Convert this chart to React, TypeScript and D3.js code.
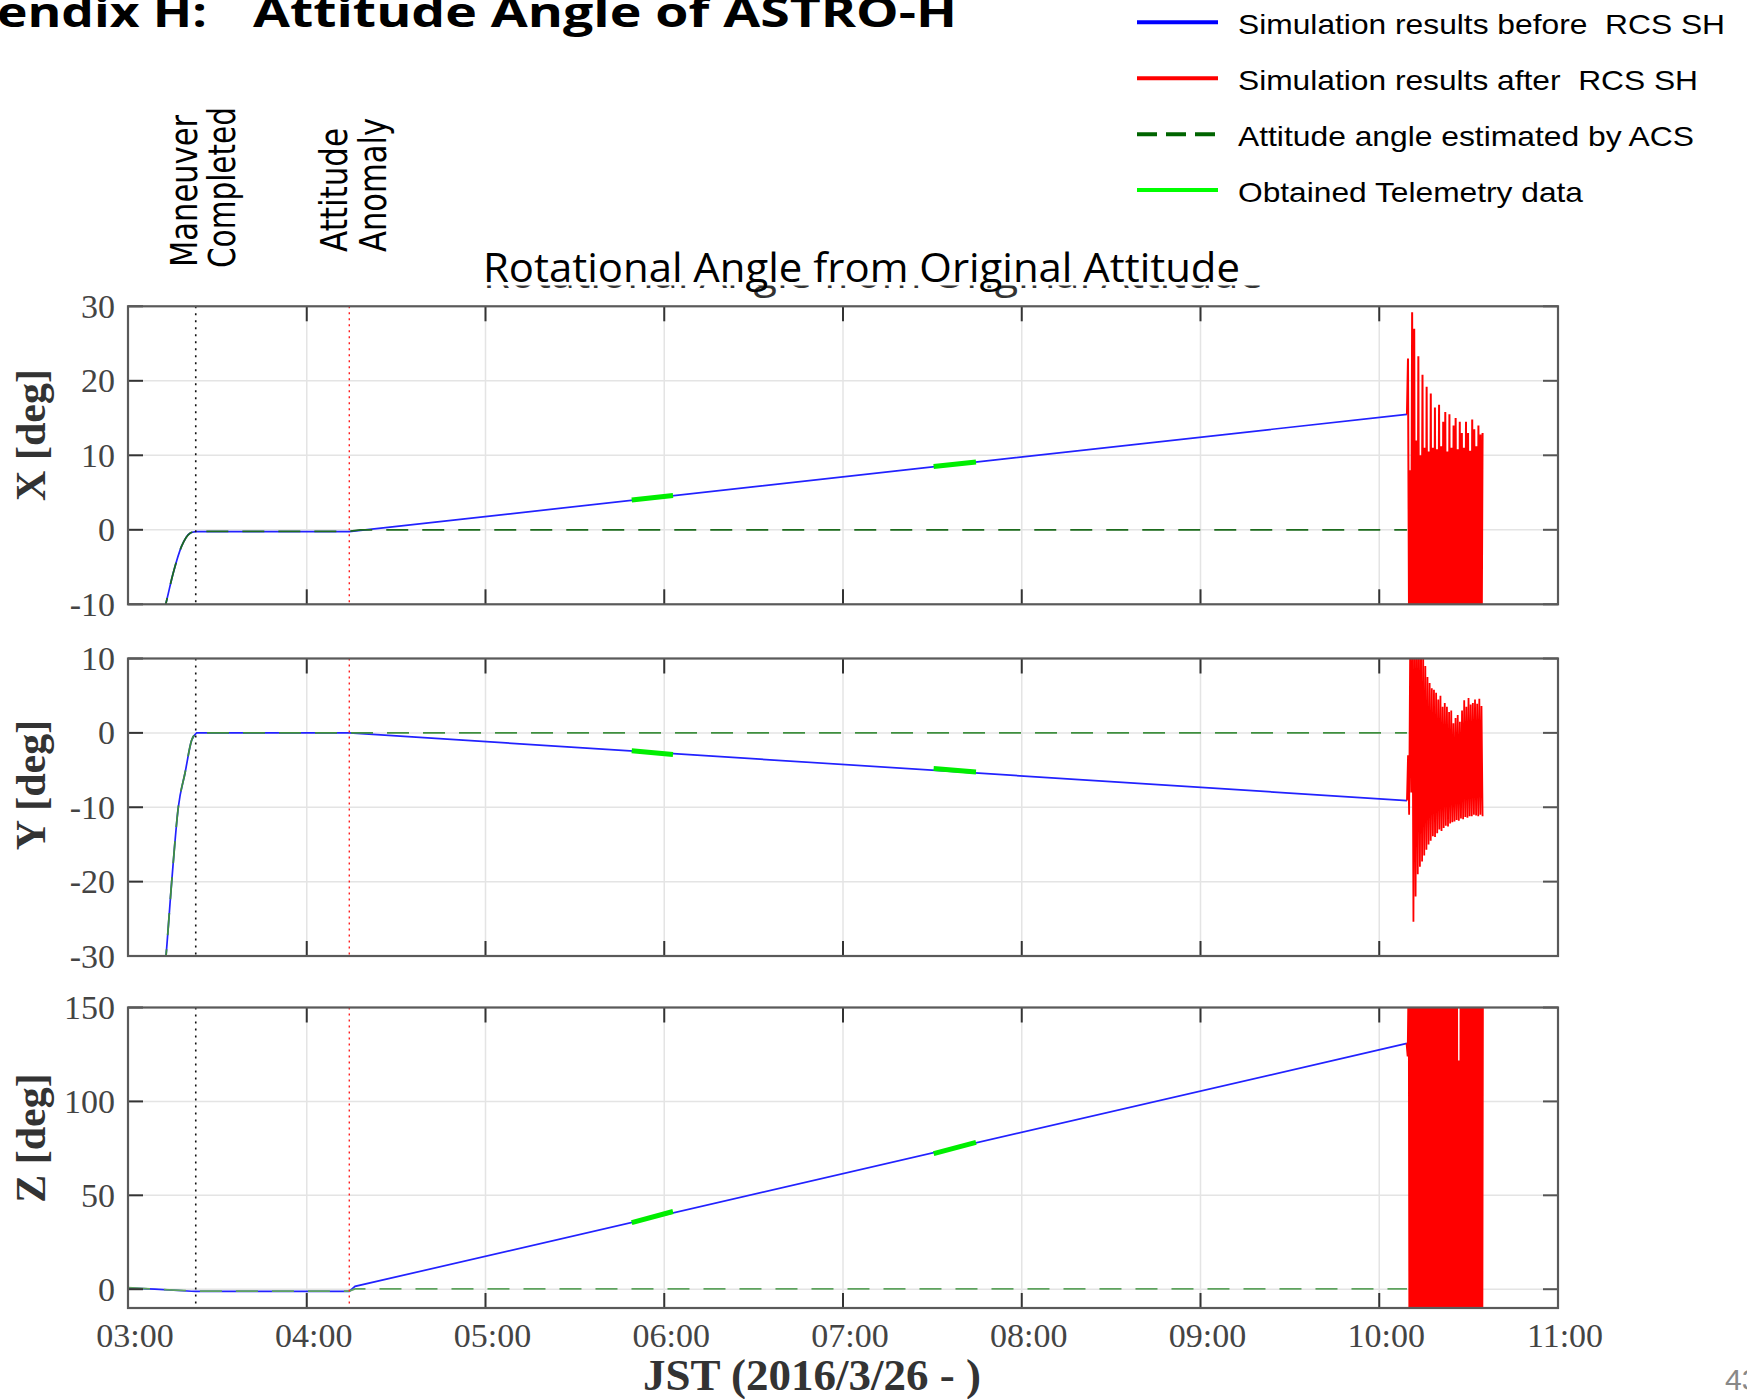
import React from 'react';
import * as d3 from 'd3';

// ---------- data ----------
const hourTicks = [3, 4, 5, 6, 7, 8, 9, 10, 11];
const hourLabels = ['03:00', '04:00', '05:00', '06:00', '07:00', '08:00', '09:00', '10:00', '11:00'];
const panelLabels = ['X [deg]', 'Y [deg]', 'Z [deg]'];
const xTicksX = [-10, 0, 10, 20, 30];
const xTicksY = [-30, -20, -10, 0, 10];
const xTicksZ = [0, 50, 100, 150];
const domainX = [-10, 30];
const domainY = [-30, 10];
const domainZ = [-10, 150];

const maneuverTime = 3.379;
const anomalyTime = 4.238;
const rcsStart = 10.155;
const rcsEnd = 10.578;
const settleTime = 3.39; // end of the curved approach segment

// blue: simulation before RCS SH
const blueXT = [3.19, 3.211, 3.253, 3.3, 3.347, 3.379, 4.238, 10.155];
const blueXV = [-12, -10, -5.8, -2.2, -0.45, -0.25, -0.25, 15.5];
const blueYT = [3.205, 3.2126, 3.2445, 3.2814, 3.319, 3.356, 3.384, 4.238, 10.155];
const blueYV = [-32, -30, -20, -10, -5.4, -1, 0, 0, -9.1];
const blueZT = [3.0, 3.15, 3.379, 4.238, 4.27, 10.155];
const blueZV = [0.6, 0, -1.2, -1.2, 1.5, 130.9];

// dashed green: attitude angle estimated by ACS
const acsXT = [3.19, 3.211, 3.253, 3.3, 3.347, 3.379, 4.238, 4.3, 10.155];
const acsXV = [-12, -10, -5.8, -2.2, -0.45, -0.2, -0.2, 0, 0];
const acsYT = [3.205, 3.2126, 3.2445, 3.2814, 3.319, 3.356, 3.384, 10.155];
const acsYV = [-32, -30, -20, -10, -5.4, -1, 0, 0];
const acsZT = [3.0, 3.15, 3.379, 4.238, 4.27, 10.155];
const acsZV = [0.8, 0, -1, -1, 0.2, 0.2];

// bright green: obtained telemetry
const telT = [[5.818, 6.049], [7.507, 7.744]];
const telXV = [[4.0, 4.6], [8.5, 9.1]];
const telYV = [[-2.4, -2.9], [-4.8, -5.25]];
const telZV = [[35.5, 41.4], [72.2, 78.2]];

// red: simulation after RCS SH (samples evenly spread over rcsStart..rcsEnd)
const redX = [15.5, 23, -12, 8, -14, 29.2, -18, 27, -25, 12, -20, 23.3, -22, 10, -16, 20.8, -24, 11, -19, 19.2,
  -21, 10.5, -17, 18.3, -23, 11, -20, 16.4, -18, 10.8, -22, 16.8, -19, 11.2, -24, 14.5, -17, 15.8, -21, 10.5,
  -20, 15.5, -23, 11, -18, 14, -22, 15, -19, 10.8, -21, 14.5, -24, 13, -18, 11, -20, 14.5, -22, 13,
  -19, 10.6, -23, 14.8, -20, 13.5, -18, 11.2, -21, 14, -22, 12.8, -19, 13];
const redY = [-9.1, -3, -11, 12, -8, 14, -25.4, 16, -22, 13, -19, 15, -18, 12, -17.3, 11, -16.5, 9, -15.7, 7.5,
  -15, 6.7, -14.5, 6, -13.9, 5.8, -14, 5.4, -13.5, 4.5, -13, 5, -13.2, 3.5, -12.8, 4, -12.5, 3.5, -12.6, 2.8,
  -12.2, 3, -12, 1.3, -11.9, 2, -11.7, 2.4, -11.8, 1.5, -11.5, 3, -11.6, 4.4, -11.3, 3.5, -11.4, 4.7, -11.2, 3.8,
  -11.2, 4, -11.0, 4.5, -11.1, 3.9, -11.2, 4.6, -11.0, 3.6, -11.2];
const redZ = [130.9, 124, 172, -168, 176, -174, 169, -177, 178, -165, 171, -179, 175, -172, 168, -176, 177, -170,
  173, -178, 166, -174, 179, -169, 172, -175, 176, -171, 170, -177, 174, -166, 178, -173, 171, -176, 177, -170,
  169, -178, 175, -172, 173, -175, 168, -174, 179, -168, 121.8, -177, 176, -171, 172, -179, 174, -169, 170, -176,
  178, -173, 168, -175, 175, -170, 177, -178, 171, -172, 173, -174, 169];

const legendLabels = [
  'Simulation results before  RCS SH',
  'Simulation results after  RCS SH',
  'Attitude angle estimated by ACS',
  'Obtained Telemetry data',
];

// ---------- layout ----------
const W = 1747;
const H = 1399;
const left = 128;
const right = 1558;
const panels = [
  { top: 306.3, bottom: 604.3, domain: domainX, ticks: xTicksX, label: panelLabels[0], labelY: 435,
    blueT: blueXT, blueV: blueXV, acsT: acsXT, acsV: acsXV, tel: telXV, red: redX, acsColor: '#1d6b1d', redW: 2.0 },
  { top: 658.5, bottom: 956, domain: domainY, ticks: xTicksY, label: panelLabels[1], labelY: 785,
    blueT: blueYT, blueV: blueYV, acsT: acsYT, acsV: acsYV, tel: telYV, red: redY, acsColor: '#3f8f3f', redW: 1.8 },
  { top: 1007.5, bottom: 1308, domain: domainZ, ticks: xTicksZ, label: panelLabels[2], labelY: 1138,
    blueT: blueZT, blueV: blueZV, acsT: acsZT, acsV: acsZV, tel: telZV, red: redZ, acsColor: '#5ea35e', redW: 2.6 },
];

const xScale = d3.scaleLinear().domain([3, 11]).range([left, right]);

function splitPts(ts: number[], vs: number[]) {
  const pts = ts.map((t, i) => [t, vs[i]] as [number, number]);
  let k = 0;
  while (k < pts.length - 1 && pts[k + 1][0] <= settleTime) k++;
  return { head: pts.slice(0, k + 1), tail: pts.slice(k) };
}

function Panel({ p, idx }: { p: any; idx: number }) {
  const y = d3.scaleLinear().domain(p.domain).range([p.bottom, p.top]);
  const line = d3.line<[number, number]>().x((d) => xScale(d[0])).y((d) => y(d[1]));
  const smooth = d3.line<[number, number]>().x((d) => xScale(d[0])).y((d) => y(d[1])).curve(d3.curveMonotoneX);
  const blue = splitPts(p.blueT, p.blueV);
  const acs = splitPts(p.acsT, p.acsV);
  const idxScale = d3.scaleLinear().domain([0, p.red.length - 1]).range([rcsStart, rcsEnd]);
  const redPts = p.red.map((v: number, i: number) => [idxScale(i), v] as [number, number]);
  const clipId = `clip-${idx}`;
  const tickLen = 15;
  const blueD = (smooth(blue.head) || '') + (line(blue.tail) || '').replace(/^M/, 'L');
  const acsD = (smooth(acs.head) || '') + (line(acs.tail) || '').replace(/^M/, 'L');
  return (
    <g>
      <defs>
        <clipPath id={clipId}>
          <rect x={left} y={p.top} width={right - left} height={p.bottom - p.top} />
        </clipPath>
      </defs>
      <rect x={left} y={p.top} width={right - left} height={p.bottom - p.top} fill="#fff" />
      {/* grid */}
      {hourTicks.slice(1, -1).map((h) => (
        <line key={'vg' + h} x1={xScale(h)} x2={xScale(h)} y1={p.top} y2={p.bottom} stroke="#e4e4e4" strokeWidth={1.5} />
      ))}
      {p.ticks.map((t: number) => (
        <line key={'hg' + t} x1={left} x2={right} y1={y(t)} y2={y(t)} stroke="#e4e4e4" strokeWidth={1.5} />
      ))}
      <g clipPath={`url(#${clipId})`}>
        <path d={blueD} fill="none" stroke="#2222ff" strokeWidth={1.7} />
        <path d={line(redPts) || ''} fill="none" stroke="#ff0000" strokeWidth={p.redW} strokeLinejoin="miter" />
        <path d={acsD} fill="none" stroke={p.acsColor} strokeWidth={1.8} strokeDasharray="22,14" />
        {telT.map((seg, i) => (
          <path key={'tel' + i}
            d={line([[seg[0], p.tel[i][0]], [seg[1], p.tel[i][1]]]) || ''}
            fill="none" stroke="#00ee00" strokeWidth={5} />
        ))}
      </g>
      <line x1={xScale(maneuverTime)} x2={xScale(maneuverTime)} y1={p.top} y2={p.bottom} stroke="#111" strokeWidth={1.6} strokeDasharray="2,5" />
      <line x1={xScale(anomalyTime)} x2={xScale(anomalyTime)} y1={p.top} y2={p.bottom} stroke="#ff2020" strokeWidth={1.4} strokeDasharray="2,4" />
      {/* ticks */}
      {hourTicks.map((h) => (
        <g key={'xt' + h}>
          <line x1={xScale(h)} x2={xScale(h)} y1={p.top} y2={p.top + tickLen} stroke="#333" strokeWidth={2} />
          <line x1={xScale(h)} x2={xScale(h)} y1={p.bottom} y2={p.bottom - tickLen} stroke="#333" strokeWidth={2} />
        </g>
      ))}
      {p.ticks.map((t: number) => (
        <g key={'yt' + t}>
          <line x1={left} x2={left + tickLen} y1={y(t)} y2={y(t)} stroke="#333" strokeWidth={2} />
          <line x1={right} x2={right - tickLen} y1={y(t)} y2={y(t)} stroke="#555" strokeWidth={2} />
          <text x={115} y={y(t)} textAnchor="end" dominantBaseline="central"
            fontFamily="'Liberation Serif', 'Times New Roman', serif" fontSize={34} fill="#444">
            {t}
          </text>
        </g>
      ))}
      <rect x={left} y={p.top} width={right - left} height={p.bottom - p.top} fill="none" stroke="#5a5a5a" strokeWidth={2.2} />
      <text transform={`translate(45,${p.labelY}) rotate(-90)`} textAnchor="middle"
        fontFamily="'Liberation Serif', 'Times New Roman', serif" fontWeight="bold" fontSize={42} fill="#333">
        {p.label}
      </text>
    </g>
  );
}

export default function App() {
  const legendY = [22.3, 78.3, 134.3, 190];
  const legendW = [487, 460, 456, 345];
  const legendStyles = [
    { stroke: '#0000ff', dash: undefined },
    { stroke: '#ff0000', dash: undefined },
    { stroke: '#006400', dash: '20,9' },
    { stroke: '#00ff00', dash: undefined },
  ];
  const zPanel = panels[2];
  return (
    <svg width={W} height={H} style={{ position: 'absolute', left: 0, top: 0, background: '#fff' }}>
      <rect x={0} y={0} width={W} height={H} fill="#fff" />
      {/* slide title (cut off) */}
      <text x={-3} y={26.7} fontFamily="'Open Sans', sans-serif" fontWeight="bold" fontSize={42} fill="#000"
        textLength={210} lengthAdjust="spacingAndGlyphs">endix H:</text>
      <text x={253} y={26.7} fontFamily="'Open Sans', sans-serif" fontWeight="bold" fontSize={42} fill="#000"
        textLength={704} lengthAdjust="spacingAndGlyphs">Attitude Angle of ASTRO-H</text>

      {/* legend */}
      {legendLabels.map((lab, i) => (
        <g key={'lg' + i}>
          <line x1={1137} x2={1218} y1={legendY[i]} y2={legendY[i]} stroke={legendStyles[i].stroke} strokeWidth={4}
            strokeDasharray={legendStyles[i].dash} />
          <text x={1238} y={legendY[i] + 12} fontFamily="'Liberation Sans', Arial, sans-serif" fontSize={28} fill="#000"
            textLength={legendW[i]} lengthAdjust="spacingAndGlyphs" style={{ whiteSpace: 'pre' }}>{lab}</text>
        </g>
      ))}

      {/* event labels */}
      <g fontFamily="'DejaVu Sans', Verdana, sans-serif" fontSize={37} fill="#000">
        <text transform="translate(197,267) rotate(-90)" textLength={152} lengthAdjust="spacingAndGlyphs">Maneuver</text>
        <text transform="translate(235,268) rotate(-90)" textLength={161} lengthAdjust="spacingAndGlyphs">Completed</text>
        <text transform="translate(347,252) rotate(-90)" textLength={124} lengthAdjust="spacingAndGlyphs">Attitude</text>
        <text transform="translate(386,252) rotate(-90)" textLength={134} lengthAdjust="spacingAndGlyphs">Anomaly</text>
      </g>

      {/* chart title with the remnant of the original title beneath it */}
      <defs>
        <clipPath id="title-remnant">
          <rect x={470} y={285.5} width={820} height={14} />
        </clipPath>
      </defs>
      <g clipPath="url(#title-remnant)">
        <text x={483} y={287.5} fontFamily="'Open Sans', sans-serif" fontSize={41} fill="#333"
          textLength={780} lengthAdjust="spacingAndGlyphs">
          Rotational Angle from Original Attitude
        </text>
      </g>
      <text x={483} y={281.7} fontFamily="'Open Sans', sans-serif" fontSize={41} fill="#000"
        textLength={757} lengthAdjust="spacingAndGlyphs">
        Rotational Angle from Original Attitude
      </text>

      {panels.map((p, i) => <Panel key={i} p={p} idx={i} />)}

      {/* x tick labels */}
      {hourTicks.map((h, i) => (
        <text key={'xl' + h} x={xScale(h) + 7} y={zPanel.bottom + 39} textAnchor="middle"
          fontFamily="'Liberation Serif', 'Times New Roman', serif" fontSize={34} fill="#444">
          {hourLabels[i]}
        </text>
      ))}
      <text x={812} y={1390} textAnchor="middle" fontFamily="'Liberation Serif', 'Times New Roman', serif"
        fontWeight="bold" fontSize={45} fill="#333">JST (2016/3/26 - )</text>
      <text x={1725} y={1390} fontFamily="'Liberation Sans', Arial, sans-serif" fontSize={30} fill="#888">43</text>
    </svg>
  );
}
